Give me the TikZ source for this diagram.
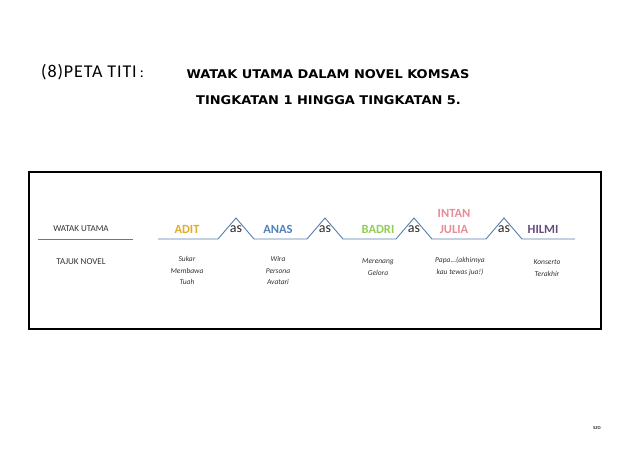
\documentclass[tikz,border=0pt]{standalone}
\usepackage{fontspec}
\setmainfont{Carlito}
\newfontfamily\comicfont[FakeStretch=1.08]{DejaVu Sans}
\newfontfamily\titlefont[LetterSpace=5]{Carlito}
\usetikzlibrary{positioning}
\definecolor{bridgeblue}{RGB}{84,125,172}
\definecolor{aditgold}{RGB}{222,172,40}
\definecolor{anasblue}{RGB}{79,129,189}
\definecolor{badrigreen}{RGB}{146,206,84}
\definecolor{intanpink}{RGB}{230,140,150}
\definecolor{hilmipurple}{RGB}{100,76,128}

\begin{document}
\begin{tikzpicture}[x=1pt,y=-1pt,
	name node/.style={font=\bfseries\fontsize{12.5}{13}\selectfont,inner sep=0,align=center},
	as node/.style={font=\fontsize{14}{14}\selectfont,inner sep=0,text=black!85},
	novel node/.style={font=\itshape\fontsize{7.5}{11.6}\selectfont,inner sep=0,align=center,text=black!80},
	label node/.style={font=\fontsize{9}{10}\selectfont,inner sep=0,text=black!80},
	comic node/.style={font=\comicfont\bfseries\fontsize{12}{13}\selectfont,inner sep=0},
	bridge/.style={draw=bridgeblue,line width=0.9pt},
	]
	\useasboundingbox (0,0) rectangle (638,452);
	
	%title
	\node[anchor=west,inner sep=0,font=\titlefont\fontsize{18}{20}\selectfont] (title) at (41,72) {(8)PETA TITI\hspace{3pt}{\fontsize{15}{20}\selectfont:}};
	\node[comic node] (head1) at (328,74) {WATAK UTAMA DALAM NOVEL KOMSAS};
	\node[comic node] (head2) at (328.5,100) {TINGKATAN 1 HINGGA TINGKATAN 5.};
	
	%frame
	\draw[line width=1.6pt] (29,172) rectangle (601,329);
	
	%relating factor
	\node[label node] (watak) at (81,229) {WATAK UTAMA};
	\node[label node] (tajuk) at (81,262) {TAJUK NOVEL};
	\coordinate (w0) at (38,239);
	\coordinate (w1) at (133,239);
	\draw[bridge] (w0) -- (w1);
	
	%bridge points
	\coordinate (b0) at (158,239);
	\coordinate (b5) at (575,239);
	\foreach \x [count=\i] in {236,325,414,504}
	{
		\coordinate (l\i) at (\x-18,239);
		\coordinate (a\i) at (\x,218);
		\coordinate (r\i) at (\x+18,239);
		\node[as node] (as\i) at (\x,229) {as};
	}
	\draw[bridge] (b0) -- (l1) -- (a1) -- (r1) -- (l2) -- (a2) -- (r2) -- (l3) -- (a3) -- (r3) -- (l4) -- (a4) -- (r4) -- (b5);
	
	%pairs
	\node[name node,text=aditgold] (adit) at (187,229) {ADIT};
	\node[name node,text=anasblue] (anas) at (278,229) {ANAS};
	\node[name node,text=badrigreen] (badri) at (378,229) {BADRI};
	\node[name node,text=intanpink,font=\bfseries\fontsize{12.5}{16}\selectfont] (intan) at (454,221) {INTAN\\JULIA};
	\node[name node,text=hilmipurple] (hilmi) at (543,229) {HILMI};
	
	\node[novel node] (sukar) at (187,270.5) {Sukar\\Membawa\\Tuah};
	\node[novel node] (wira) at (278,270.5) {Wira\\Persona\\Avatari};
	\node[novel node] (merenang) at (378,267) {Merenang\\Gelora};
	\node[novel node] (papa) at (460,266.5) {Papa...(akhirnya\\kau tewas jua!)};
	\node[novel node] (konserto) at (547,268) {Konserto\\Terakhir};
	
	\node[inner sep=0,font=\fontsize{6}{7}\selectfont] (szo) at (597,428) {szo};
\end{tikzpicture}
\end{document}
